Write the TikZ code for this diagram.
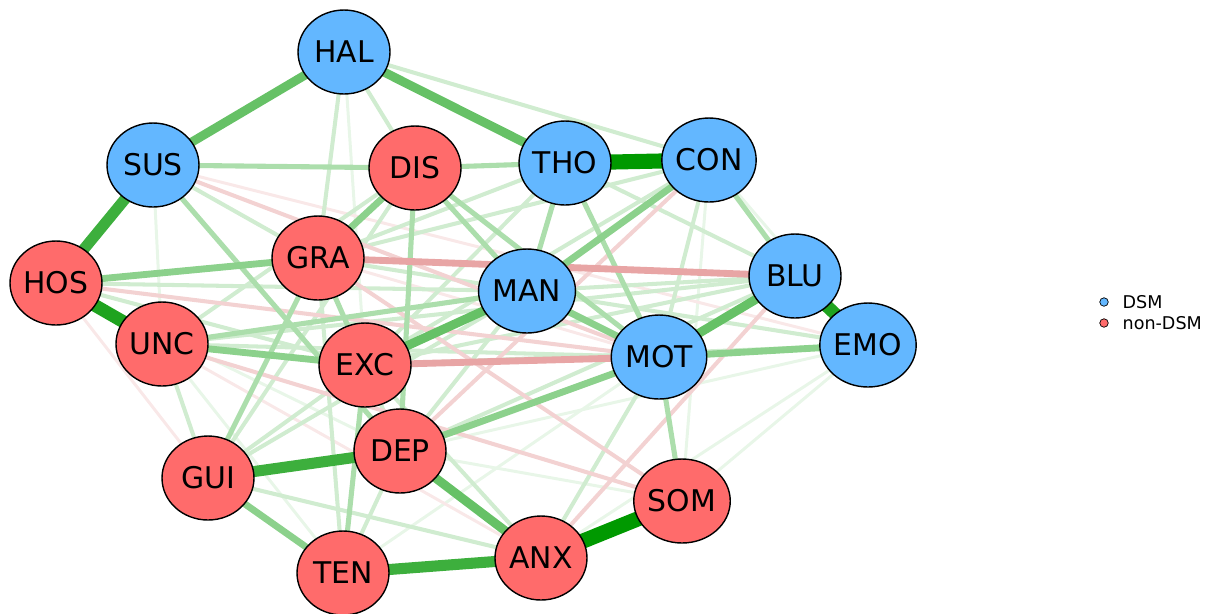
\documentclass[tikz,border=0pt]{standalone}
\usepackage{fontspec}
\setmainfont{DejaVu Sans}
\usetikzlibrary{shapes.geometric,positioning}

\definecolor{dsmblue}{RGB}{99,183,255}
\definecolor{nondsmred}{RGB}{255,107,107}

\pgfdeclarelayer{background}
\pgfsetlayers{background,main}

\tikzset{
  sym/.style={ellipse, draw=black, line width=0.8pt, minimum width=1.84cm,
    minimum height=1.68cm, inner sep=0pt, font=\fontsize{17}{20}\selectfont},
  dsm/.style={sym, fill=dsmblue},
  nondsm/.style={sym, fill=nondsmred},
  g1/.style={line width=1.7pt, color={rgb,255:red,232;green,246;blue,232}},
  g2/.style={line width=2.3pt, color={rgb,255:red,208;green,236;blue,208}},
  g3/.style={line width=2.9pt, color={rgb,255:red,172;green,222;blue,172}},
  g4/.style={line width=3.9pt, color={rgb,255:red,140;green,209;blue,140}},
  g5/.style={line width=5.1pt, color={rgb,255:red,102;green,193;blue,102}},
  g6/.style={line width=6.3pt, color={rgb,255:red,61;green,175;blue,61}},
  g7/.style={line width=7.3pt, color={rgb,255:red,31;green,163;blue,31}},
  g8/.style={line width=8.6pt, color={rgb,255:red,0;green,153;blue,0}},
  r1/.style={line width=1.7pt, color={rgb,255:red,249;green,232;blue,232}},
  r2/.style={line width=2.3pt, color={rgb,255:red,243;green,210;blue,210}},
  r3/.style={line width=3.9pt, color={rgb,255:red,232;green,165;blue,165}},
  keydot/.style={circle, draw=black, line width=0.4pt, inner sep=0pt, minimum size=0.17cm},
  keytext/.style={font=\fontsize{10}{12}\selectfont, inner sep=1pt}
}

\begin{document}
\begin{tikzpicture}[x=0.02cm, y=-0.02cm]
  \useasboundingbox (0,0) rectangle (1206,613);

  % symptoms
  \node[dsm] (HAL) at (344,52) {HAL};
  \node[dsm] (SUS) at (153,165) {SUS};
  \node[nondsm] (DIS) at (415,168) {DIS};
  \node[dsm] (THO) at (565,163) {THO};
  \node[dsm] (CON) at (709,160) {CON};
  \node[nondsm] (GRA) at (318,258) {GRA};
  \node[nondsm] (HOS) at (56,283) {HOS};
  \node[dsm] (MAN) at (527,291) {MAN};
  \node[dsm] (BLU) at (795,276) {BLU};
  \node[nondsm] (UNC) at (162,344) {UNC};
  \node[nondsm] (EXC) at (365,365) {EXC};
  \node[dsm] (MOT) at (659,357) {MOT};
  \node[dsm] (EMO) at (868,345) {EMO};
  \node[nondsm] (DEP) at (400,451) {DEP};
  \node[nondsm] (GUI) at (208,478) {GUI};
  \node[nondsm] (SOM) at (682,501) {SOM};
  \node[nondsm] (TEN) at (343,573) {TEN};
  \node[nondsm] (ANX) at (541,558) {ANX};

  % edges, weakest first
  \begin{pgfonlayer}{background}
    \foreach \a/\b in {HAL/EXC, SUS/UNC, DEP/EMO, ANX/EMO, SOM/EMO, SOM/CON,
        SOM/DEP, CON/EMO, TEN/UNC, TEN/MOT, HOS/DEP}
      \draw[g1] (\a.center) -- (\b.center);
    \foreach \a/\b in {SUS/EMO, HOS/GUI, GRA/MOT, UNC/ANX}
      \draw[r1] (\a.center) -- (\b.center);
    \foreach \a/\b in {GUI/DIS, UNC/MOT, UNC/DIS, HOS/EXC, HOS/MAN, GUI/MAN,
        GUI/EXC, GUI/ANX, GUI/UNC, TEN/DEP, TEN/GRA, DEP/EXC, DEP/BLU,
        ANX/MOT, ANX/EXC, MOT/CON, THO/GRA, THO/EXC, THO/BLU, CON/GRA,
        CON/EXC, HAL/CON, HAL/DIS, HAL/GRA, BLU/EXC, BLU/MAN, BLU/UNC,
        EMO/MAN, EMO/EXC, MAN/GRA, MAN/DEP, SUS/GRA}
      \draw[g2] (\a.center) -- (\b.center);
    \foreach \a/\b in {DEP/CON, SUS/MOT, HOS/MOT, UNC/SOM, GRA/SOM, ANX/BLU}
      \draw[r2] (\a.center) -- (\b.center);
    \foreach \a/\b in {THO/MOT, DIS/THO, SUS/DIS, CON/BLU, EXC/TEN, GRA/EXC,
        GUI/GRA, DIS/MAN, DIS/MOT, SUS/DEP, UNC/MAN, DIS/DEP, THO/MAN, SOM/MOT}
      \draw[g3] (\a.center) -- (\b.center);
    \foreach \a/\b in {GRA/BLU, EXC/MOT}
      \draw[r3] (\a.center) -- (\b.center);
    \foreach \a/\b in {MOT/EMO, HOS/GRA, UNC/EXC, MAN/MOT, DEP/MOT, MAN/CON,
        GRA/DIS, GUI/TEN}
      \draw[g4] (\a.center) -- (\b.center);
    \foreach \a/\b in {HAL/SUS, HAL/THO, BLU/MOT, EXC/MAN, DEP/ANX}
      \draw[g5] (\a.center) -- (\b.center);
    \foreach \a/\b in {SUS/HOS, GUI/DEP, TEN/ANX}
      \draw[g6] (\a.center) -- (\b.center);
    \foreach \a/\b in {HOS/UNC, BLU/EMO}
      \draw[g7] (\a.center) -- (\b.center);
    \foreach \a/\b in {THO/CON, ANX/SOM}
      \draw[g8] (\a.center) -- (\b.center);
  \end{pgfonlayer}

  % legend
  \node[keydot, fill=dsmblue] (kdsm) at (1104,302) {};
  \node[keydot, fill=nondsmred] (knon) at (1104,323) {};
  \node[keytext, right=0.33cm of kdsm.center, anchor=west] (tdsm) {DSM};
  \node[keytext, right=0.33cm of knon.center, anchor=west] (tnon) {non-DSM};
\end{tikzpicture}
\end{document}
